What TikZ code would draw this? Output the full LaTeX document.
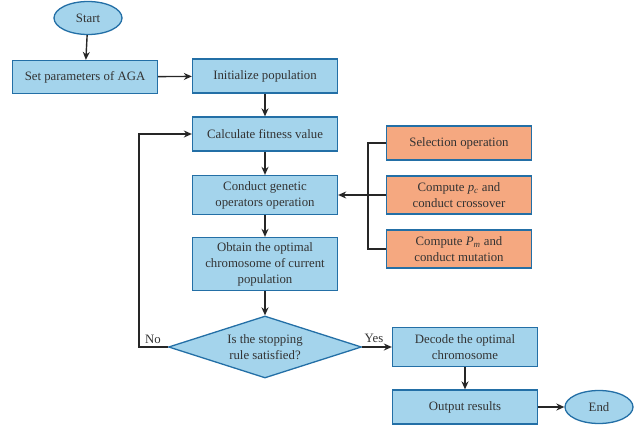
\documentclass[tikz,border=0pt]{standalone}
\usepackage{fontspec}
\setmainfont{Liberation Serif}
\usetikzlibrary{shapes.geometric,arrows.meta}
\definecolor{boxblue}{HTML}{A4D4EC}
\definecolor{edgeblue}{HTML}{236FA6}
\definecolor{boxorange}{HTML}{F5A880}
\definecolor{txt}{HTML}{333333}
\newcommand{\subvar}[2]{\textit{#1}\textsubscript{\textit{#2}}}
\begin{document}
\begin{tikzpicture}[x=1pt,y=-1pt,
  every node/.style={font=\fontsize{12.8}{16}\selectfont, text=txt},
  proc/.style={draw=edgeblue, line width=1.3pt, fill=boxblue, minimum width=145pt, align=center, inner sep=2pt},
  oproc/.style={proc, fill=boxorange},
  term/.style={ellipse, draw=edgeblue, line width=1.3pt, fill=boxblue, minimum width=68pt, minimum height=33pt, inner sep=0pt},
  decide/.style={diamond, aspect=3.1, draw=edgeblue, line width=1.3pt, fill=boxblue, minimum width=193pt, minimum height=62pt, inner sep=0pt, align=center},
  link/.style={draw=black!85, line width=1.4pt},
  arr/.style={link, -{Stealth[length=8pt,width=7pt]}}]
\useasboundingbox (0,0) rectangle (643,428);

\node[term] (start) at (88,18) {Start};
\node[proc, minimum height=33pt] (set) at (85,77) {Set parameters of AGA};
\node[proc, minimum height=34pt] (init) at (265,76) {Initialize population};
\node[proc, minimum height=34pt] (fit) at (265,134) {Calculate fitness value};
\node[proc, minimum height=39pt] (gen) at (265,195) {Conduct genetic\\operators operation};
\node[proc, minimum height=53pt, inner sep=1pt] (opt) at (265,264) {Obtain the optimal\\chromosome of current\\population};
\node[decide] (stop) at (265,347) {Is the stopping\\rule satisfied?};
\node[proc, minimum height=39pt] (dec) at (465,347) {Decode the optimal\\chromosome};
\node[proc, minimum height=34pt] (out) at (465,407) {Output results};
\node[term] (end) at (599,407) {End};

\node[oproc, minimum height=34pt] (sel) at (459,143) {Selection operation};
\node[oproc, minimum height=38pt] (cross) at (459,195) {Compute \subvar{p}{c} and\\conduct crossover};
\node[oproc, minimum height=38pt] (mut) at (459,249) {Compute \subvar{P}{m} and\\conduct mutation};

\coordinate (bus) at (368,195);
\coordinate (loop) at (139,347);

\draw[arr] (start) -- (set);
\draw[arr] (set) -- (init);
\draw[arr] (init) -- (fit);
\draw[arr] (fit) -- (gen);
\draw[arr] (gen) -- (opt);
\draw[arr] (opt) -- (stop);
\draw[arr] (stop) -- node[above, pos=0.4] {Yes} (dec);
\draw[arr] (dec) -- (out);
\draw[arr] (out) -- (end);

\draw[link] (sel.west) -| (bus) |- (mut.west);
\draw[arr] (cross.west) -- (gen.east);

\draw[arr] (stop.west) -- (loop) |- (fit.west);
\node[anchor=south] (no) at (153,347) {No};
\end{tikzpicture}
\end{document}
